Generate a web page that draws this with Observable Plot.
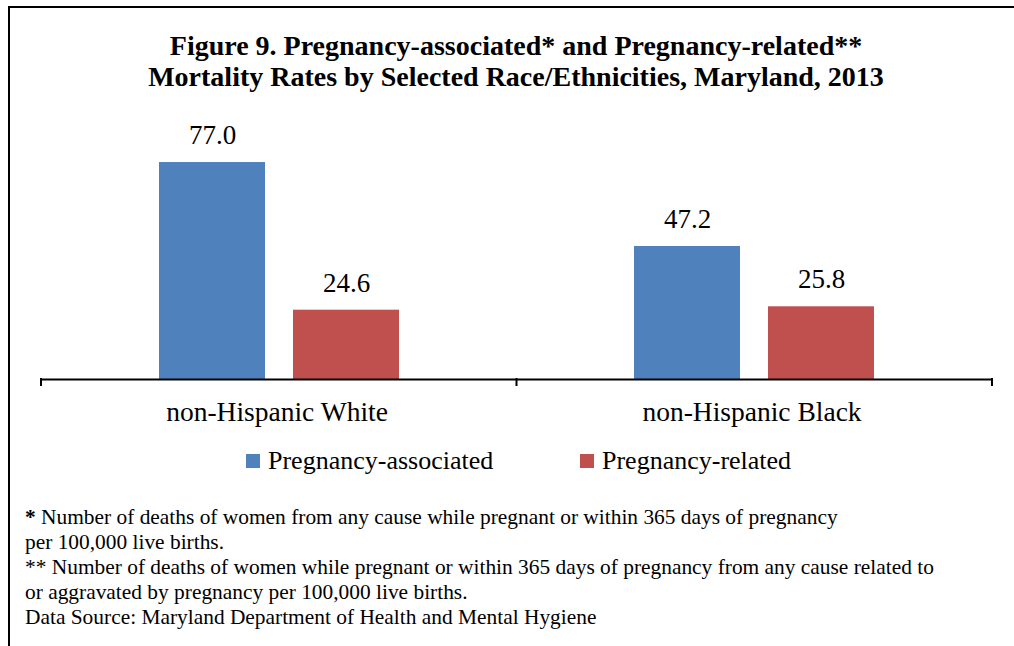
<!DOCTYPE html>
<html>
<head>
<meta charset="utf-8">
<script src="https://cdn.jsdelivr.net/npm/d3@7"></script>
<script src="https://cdn.jsdelivr.net/npm/@observablehq/plot@0.6"></script>
<style>
  html, body { margin: 0; padding: 0; background: #fff; }
  #wrap { position: relative; width: 1014px; height: 646px; overflow: hidden; font-family: "Liberation Serif", "Times New Roman", serif; color: #000; }
  #borderTop { position: absolute; left: 8px; top: 6px; width: 1006px; height: 2px; background: #000; }
  #borderLeft { position: absolute; left: 8px; top: 6px; width: 2px; height: 640px; background: #000; }
  #title { position: absolute; left: 0; width: 1032px; top: 30px; text-align: center; font-weight: bold; font-size: 28px; line-height: 31px; }
  #chart { position: absolute; left: 0; top: 100px; }
  #chart svg text { font-family: "Liberation Serif", "Times New Roman", serif !important; }
  #legend { position: absolute; top: 446px; left: 0; width: 1014px; height: 30px; font-size: 26px; }
  .item { position: absolute; top: 0; height: 30px; line-height: 30px; white-space: nowrap; }
  .sw { position: absolute; width: 14px; height: 14px; top: 8px; }
  .lt { position: absolute; top: 0; }
  #notes { position: absolute; left: 25px; top: 505px; font-size: 21.4px; line-height: 25px; white-space: nowrap; }
</style>
</head>
<body>
<div id="wrap">
  <div id="borderTop"></div>
  <div id="borderLeft"></div>
  <div id="title"></div>
  <div id="chart"></div>
  <div id="legend"></div>
  <div id="notes"></div>
</div>
<script>
// ---- data ----
const titleLines = [
  "Figure 9. Pregnancy-associated* and Pregnancy-related**",
  "Mortality Rates by Selected Race/Ethnicities, Maryland, 2013"
];
const groups = ["non-Hispanic White", "non-Hispanic Black"];
const series = ["Pregnancy-associated", "Pregnancy-related"];
const associatedValues = [77.0, 47.2];
const relatedValues = [24.6, 25.8];
const seriesColors = ["#4F81BD", "#C0504D"];
const footnotes = [
  "<b>*</b> Number of deaths of women from any cause while pregnant or within 365 days of pregnancy",
  "per 100,000 live births.",
  "** Number of deaths of women while pregnant or within 365 days of pregnancy from any cause related to",
  "or aggravated by pregnancy per 100,000 live births.",
  "Data Source: Maryland Department of Health and Mental Hygiene"
];

// ---- table ----
const rows = [];
groups.forEach((g, i) => {
  rows.push({group: g, series: series[0], value: associatedValues[i]});
  rows.push({group: g, series: series[1], value: relatedValues[i]});
});

document.getElementById("title").innerHTML = titleLines.map(t => `<div>${t}</div>`).join("");

const serif = "'Liberation Serif', 'Times New Roman', serif";
const plot = Plot.plot({
  width: 1014,
  height: 340,
  marginLeft: 41,
  marginRight: 22,
  marginTop: 25.4,
  marginBottom: 61,
  style: {fontFamily: serif, background: "transparent", overflow: "visible"},
  fx: {domain: groups, padding: 0, axis: null},
  x: {domain: series, paddingInner: 0.207, paddingOuter: 0.865, axis: null},
  y: {domain: [0, 90], axis: null},
  color: {domain: series, range: seriesColors},
  marks: [
    Plot.barY(rows, {fx: "group", x: "series", y: "value", fill: "series"}),
    Plot.ruleY([0], {stroke: "#000", strokeWidth: 2}),
    Plot.text(rows, {fx: "group", x: "series", y: "value", text: d => d3.format(".1f")(d.value), dy: -27, fontSize: 27, fill: "#000"}),
    Plot.axisFx({anchor: "bottom", tickSize: 0, tickPadding: 22, fontSize: 27.5, label: null, fill: "#000", dx: -3})
  ]
});
document.getElementById("chart").appendChild(plot);

// category-boundary tick marks from the fx scale
const fx = plot.scale("fx");
const y = plot.scale("y");
const band = d3.scaleBand().domain(fx.domain).range(fx.range).padding(0);
const bounds = fx.domain.map(d => band(d)).concat([band(fx.domain[fx.domain.length - 1]) + band.bandwidth()]);
const y0 = y.apply(0);
d3.select(plot).append("g").selectAll("line").data(bounds).join("line")
  .attr("x1", d => d).attr("x2", d => d)
  .attr("y1", y0 - 1).attr("y2", y0 + 7)
  .attr("stroke", "#000").attr("stroke-width", 2);

// legend
const legendX = [246, 580];
const legend = d3.select("#legend");
series.forEach((s, i) => {
  const item = legend.append("div").attr("class", "item").style("left", legendX[i] + "px");
  item.append("div").attr("class", "sw").style("left", "0px").style("background", seriesColors[i]);
  item.append("div").attr("class", "lt").style("left", "22px").text(s);
});

document.getElementById("notes").innerHTML = footnotes.map(t => `<div>${t}</div>`).join("");
</script>
</body>
</html>
